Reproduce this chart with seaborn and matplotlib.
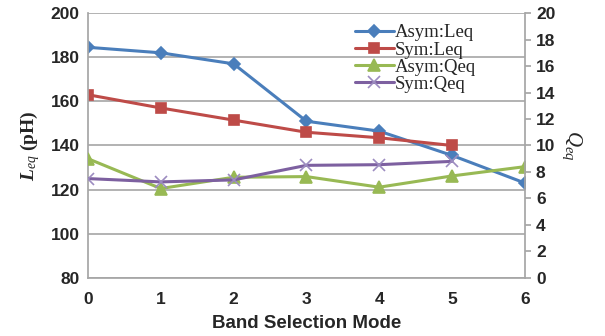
import pandas as pd
import seaborn as sns
import matplotlib.pyplot as plt

# values
modes = [0, 1, 2, 3, 4, 5, 6]
asym_leq = [184.5, 182, 177, 151, 146.5, 135.5, 123]
sym_leq = [163, 157, 151.5, 146, 143.5, 140]
asym_qeq = [9.0, 6.75, 7.6, 7.65, 6.85, 7.7, 8.4]
sym_qeq = [7.5, 7.25, 7.4, 8.5, 8.55, 8.8]

blue = '#4A7EBB'
red = '#BE4B48'
green = '#98B954'
purple = '#7D60A0'
grey = '#A6A6A6'

sns.set_theme(style="white")
plt.rcParams['font.family'] = ['Liberation Sans', 'DejaVu Sans']
plt.rcParams['mathtext.fontset'] = 'custom'
plt.rcParams['mathtext.rm'] = 'Liberation Serif'
plt.rcParams['mathtext.it'] = 'Liberation Serif:italic'
plt.rcParams['mathtext.bf'] = 'Liberation Serif:bold'
plt.rcParams['mathtext.bfit'] = 'Liberation Serif:italic:bold'

fig = plt.figure(figsize=(6.05, 3.36), dpi=100)
ax = fig.add_axes([0.1455, 0.173, 0.722, 0.788])
ax2 = ax.twinx()

df_l1 = pd.DataFrame({'x': modes, 'y': asym_leq})
df_l2 = pd.DataFrame({'x': modes[:len(sym_leq)], 'y': sym_leq})
df_q1 = pd.DataFrame({'x': modes, 'y': asym_qeq})
df_q2 = pd.DataFrame({'x': modes[:len(sym_qeq)], 'y': sym_qeq})

kw = dict(linewidth=2.2, markeredgewidth=1.2)
sns.lineplot(data=df_l1, x='x', y='y', ax=ax, color=blue, marker='D', markeredgecolor=blue,
             markersize=6.5, legend=False, **kw)
sns.lineplot(data=df_l2, x='x', y='y', ax=ax, color=red, marker='s', markeredgecolor=red,
             markersize=7, legend=False, **kw)
sns.lineplot(data=df_q1, x='x', y='y', ax=ax2, color=green, marker='^', markeredgecolor=green,
             markersize=8, legend=False, **kw)
sns.lineplot(data=df_q2, x='x', y='y', ax=ax2, color=purple, marker='x', markeredgecolor='#9C8CC0',
             markersize=8, legend=False, **kw)

ax.set_xlim(0, 6)
ax.set_ylim(80, 200)
ax.set_yticks(range(80, 201, 20))
ax.set_xticks(modes)
ax2.set_ylim(0, 20)
ax2.set_yticks(range(0, 21, 2))

ax.grid(axis='y', color=grey, linewidth=1.2)
ax.set_axisbelow(True)
for a in (ax, ax2):
    for s in a.spines.values():
        s.set_visible(False)
ax.spines['left'].set_visible(True)
ax.spines['bottom'].set_visible(True)
ax.spines['left'].set_color(grey)
ax.spines['bottom'].set_color(grey)
ax2.spines['right'].set_visible(True)
ax2.spines['right'].set_color(grey)

ax.tick_params(axis='y', length=0, labelsize=12.5, pad=6)
ax.tick_params(axis='x', length=0, labelsize=12.5, pad=10)
ax2.tick_params(axis='y', length=4, color=grey, labelsize=12.5, pad=4, direction='out')
for lab in ax.get_xticklabels() + ax.get_yticklabels() + ax2.get_yticklabels():
    lab.set_fontweight('bold')

ax.set_xlabel('Band Selection Mode', fontsize=13.5, fontweight='bold', labelpad=6)
ax.set_ylabel(r'$\mathbfit{L}_{\mathit{eq}}$ (pH)', fontsize=14, fontweight='bold',
              family='Liberation Serif', labelpad=6)
ax2.set_ylabel(r'$\mathit{Q}_{\mathit{eq}}$', fontsize=15,
               rotation=270, labelpad=20)

handles = ax.get_lines()[:2] + ax2.get_lines()[:2]
labels = ['Asym:Leq', 'Sym:Leq', 'Asym:Qeq', 'Sym:Qeq']
leg = ax.legend(handles, labels, loc='upper left', bbox_to_anchor=(0.585, 1.0),
                frameon=False, prop={'family': 'Liberation Serif', 'size': 13.5},
                handlelength=2.1, handletextpad=0.05, labelspacing=0.0, borderpad=0.1)
leg.set_zorder(5)

fig.savefig('out.png', dpi=100)
